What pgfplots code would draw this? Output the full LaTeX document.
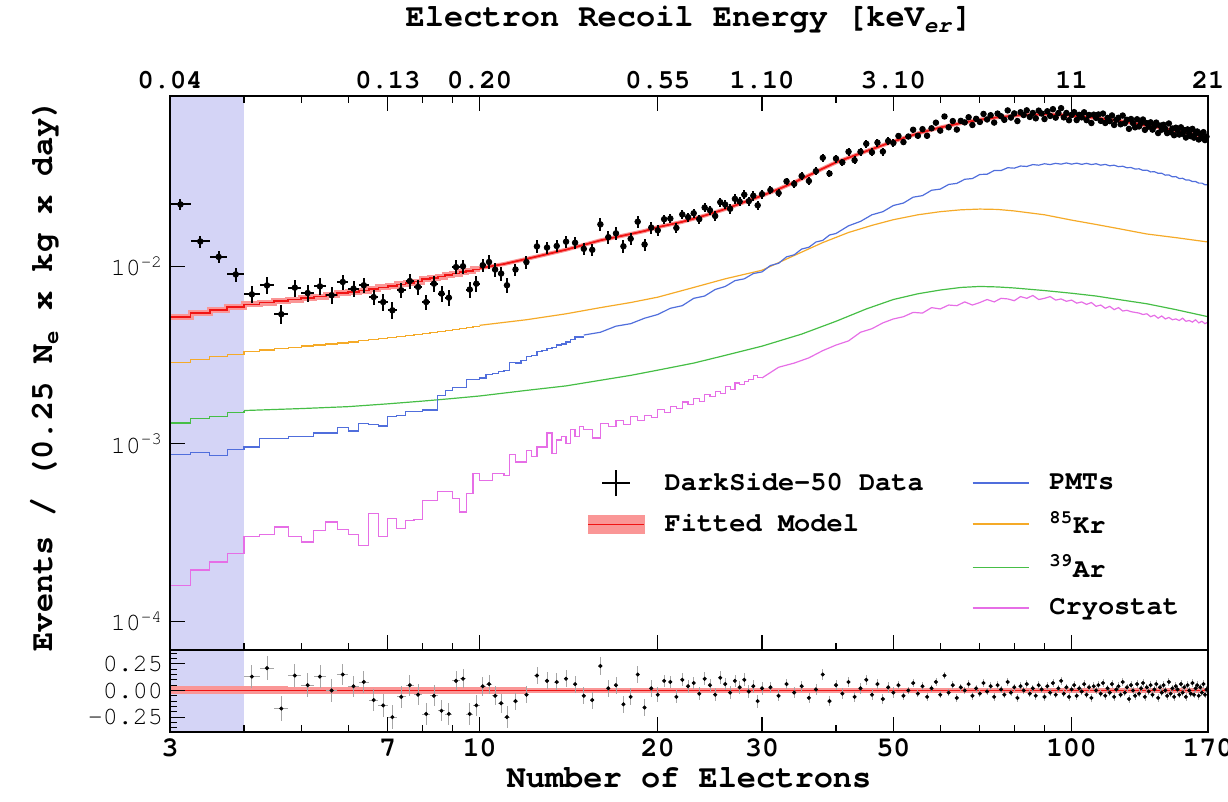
\documentclass[border=0pt]{standalone}
\usepackage{pgfplots}
\pgfplotsset{compat=1.18}
\usepackage{pgfplotstable}
\usepackage{fontspec}
\setmainfont{TeX Gyre Cursor}

\definecolor{bandblue}{RGB}{212,212,246}
\definecolor{fitred}{RGB}{240,20,20}
\definecolor{fitband}{RGB}{250,150,150}
\definecolor{pmtblue}{RGB}{80,110,220}
\definecolor{krorange}{RGB}{245,170,40}
\definecolor{argreen}{RGB}{70,190,70}
\definecolor{cryomag}{RGB}{230,110,230}

% data: N, events, relative error, residual
\pgfplotstableread{
N y rel r
3.125 0.0223 0.07 nan
3.375 0.0138 0.08 nan
3.625 0.0113 0.08 nan
3.875 0.0090 0.09 nan
4.125 0.00695 0.11 0.13
4.375 0.0078 0.11 0.21
4.625 0.00537 0.12 -0.17
4.875 0.00758 0.11 0.14
5.125 0.00707 0.11 0.05
5.375 0.00771 0.11 0.13
5.625 0.00687 0.11 0.00
5.875 0.00816 0.10 0.15
6.125 0.00748 0.10 0.04
6.375 0.00782 0.10 0.08
6.625 0.00671 0.10 -0.09
6.875 0.00629 0.11 -0.14
7.125 0.00565 0.11 -0.25
7.375 0.00733 0.10 -0.06
7.625 0.00826 0.10 0.05
7.875 0.00765 0.10 -0.04
8.125 0.00629 0.10 -0.22
8.375 0.00798 0.10 -0.05
8.625 0.00702 0.10 -0.19
8.875 0.00666 0.10 -0.22
9.125 0.0099 0.09 0.09
9.375 0.0100 0.09 0.11
9.625 0.0074 0.10 -0.22
9.875 0.00798 0.10 -0.14
10.125 0.01014 0.09 0.04
10.375 0.01057 0.09 0.06
10.625 0.00958 0.09 -0.05
10.875 0.0091 0.09 -0.12
11.125 0.00782 0.10 -0.25
11.5 0.00959 0.08 -0.10
12.0 0.01056 0.08 -0.04
12.5 0.01294 0.08 0.14
13.0 0.01275 0.08 0.09
13.5 0.01301 0.08 0.08
14.0 0.01376 0.08 0.11
14.5 0.01357 0.08 0.06
15.0 0.01254 0.08 -0.05
15.5 0.01238 0.08 -0.09
16.0 0.01722 0.08 0.23
16.5 0.01459 0.08 0.02
17.0 0.01533 0.08 0.05
17.5 0.01296 0.08 -0.13
18.0 0.01429 0.08 -0.06
18.5 0.01783 0.08 0.15
19.0 0.01327 0.08 -0.16
19.5 0.01652 0.08 0.02
20.0 0.01594 0.07 -0.04
20.5 0.01842 0.06 0.09
21.0 0.01858 0.06 0.08
21.5 0.01645 0.06 -0.06
22.0 0.01958 0.06 0.10
22.5 0.01893 0.06 0.04
23.0 0.01990 0.06 0.07
23.5 0.01843 0.06 -0.03
24.0 0.02142 0.06 0.11
24.5 0.02069 0.06 0.05
25.0 0.01920 0.06 -0.04
25.5 0.02296 0.06 0.12
26.0 0.02226 0.06 0.06
26.5 0.02107 0.06 -0.02
27.0 0.02398 0.06 0.09
27.5 0.02318 0.06 0.03
28.0 0.02530 0.06 0.10
28.5 0.02327 0.06 -0.01
29.0 0.02496 0.06 0.04
29.5 0.02205 0.06 -0.10
30.0 0.02550 0.06 0.02
31 0.02688 0.05 0.03
32 0.02584 0.05 -0.05
33 0.03010 0.05 0.06
34 0.02911 0.05 -0.02
35 0.03224 0.05 0.04
36 0.03023 0.05 -0.07
37 0.03434 0.05 0.01
38 0.04083 0.05 0.15
39 0.03330 0.05 -0.10
40 0.04043 0.05 0.05
41 0.03851 0.05 -0.03
42 0.04417 0.05 0.08
43 0.03957 0.05 -0.06
44 0.04417 0.05 0.02
45 0.04895 0.05 0.10
46 0.04387 0.05 -0.04
47 0.04971 0.05 0.06
48 0.04425 0.05 -0.08
49 0.05078 0.05 0.03
50 0.04949 0.05 -0.02
51 0.05418 0.035 0.05
52 0.05007 0.035 -0.05
53 0.05380 0.035 0.00
54 0.05874 0.035 0.07
55 0.05432 0.035 -0.03
56 0.05918 0.035 0.04
57 0.05433 0.035 -0.06
58 0.05987 0.035 0.02
59 0.06437 0.035 0.08
60 0.05808 0.035 -0.04
61 0.06977 0.035 0.14
62 0.06066 0.035 -0.02
63 0.06573 0.035 0.05
64 0.05887 0.035 -0.07
65 0.06592 0.035 0.03
66 0.06460 0.035 0.00
67 0.06911 0.035 0.06
68 0.06251 0.035 -0.05
69 0.06773 0.035 0.02
70 0.06499 0.035 -0.03
71 0.07212 0.035 0.07
72 0.06712 0.035 -0.01
73 0.07093 0.035 0.04
74 0.06448 0.035 -0.06
75 0.07245 0.035 0.05
76 0.06999 0.035 0.01
77 0.06682 0.035 -0.04
78 0.07549 0.035 0.08
79 0.06880 0.035 -0.02
80 0.07262 0.035 0.03
81 0.06575 0.035 -0.07
82 0.07374 0.035 0.04
83 0.07110 0.035 0.00
84 0.07558 0.035 0.06
85 0.06936 0.035 -0.03
86 0.07303 0.035 0.02
87 0.06812 0.035 -0.05
88 0.07529 0.035 0.05
89 0.07252 0.035 0.01
90 0.06749 0.035 -0.06
91 0.07467 0.035 0.04
92 0.07027 0.035 -0.02
93 0.07672 0.035 0.07
94 0.06874 0.035 -0.04
95 0.07293 0.035 0.02
96 0.07772 0.035 0.09
97 0.06897 0.035 -0.03
98 0.07303 0.035 0.03
99 0.06646 0.035 -0.06
100 0.07121 0.035 0.01
101 0.07382 0.035 0.05
102 0.06660 0.035 -0.05
103 0.07130 0.035 0.02
104 0.06900 0.035 -0.01
105 0.07367 0.035 0.06
106 0.06653 0.035 -0.04
107 0.07117 0.035 0.03
108 0.06408 0.035 -0.07
109 0.07145 0.035 0.04
110 0.06850 0.035 0.00
111 0.07161 0.035 0.05
112 0.06596 0.035 -0.03
113 0.07244 0.035 0.07
114 0.06413 0.035 -0.05
115 0.06854 0.035 0.02
116 0.06566 0.035 -0.02
117 0.07070 0.035 0.06
118 0.06251 0.035 -0.06
119 0.06686 0.035 0.01
120 0.06864 0.035 0.04
121 0.06307 0.035 -0.04
122 0.07063 0.035 0.08
123 0.06390 0.035 -0.02
124 0.06685 0.035 0.03
125 0.05943 0.035 -0.08
126 0.06752 0.035 0.05
127 0.06400 0.035 0.00
128 0.06061 0.035 -0.05
129 0.06731 0.035 0.06
130 0.06130 0.035 -0.03
131 0.06416 0.035 0.02
132 0.06709 0.035 0.07
133 0.05866 0.035 -0.06
134 0.06396 0.035 0.03
135 0.06118 0.035 -0.01
136 0.06468 0.035 0.05
137 0.05885 0.035 -0.04
138 0.06161 0.035 0.01
139 0.06445 0.035 0.06
140 0.05627 0.035 -0.07
141 0.06201 0.035 0.03
142 0.05880 0.035 -0.02
143 0.06269 0.035 0.05
144 0.05950 0.035 0.00
145 0.05624 0.035 -0.05
146 0.06372 0.035 0.08
147 0.05694 0.035 -0.03
148 0.05967 0.035 0.02
149 0.05471 0.035 -0.06
150 0.06032 0.035 0.04
151 0.05828 0.035 0.01
152 0.05520 0.035 -0.04
153 0.06063 0.035 0.06
154 0.05586 0.035 -0.02
155 0.05840 0.035 0.03
156 0.05311 0.035 -0.06
157 0.05901 0.035 0.05
158 0.05600 0.035 0.00
159 0.05403 0.035 -0.03
160 0.05939 0.035 0.07
161 0.05299 0.035 -0.04
162 0.05610 0.035 0.02
163 0.05744 0.035 0.05
164 0.05178 0.035 -0.05
165 0.05583 0.035 0.03
166 0.05292 0.035 -0.02
167 0.05692 0.035 0.06
168 0.05136 0.035 -0.04
169 0.05373 0.035 0.01
}\datatable

% fitted model, stepped part and smooth part
\pgfplotstableread{
N y
3 5.2e-3
3.25 5.45e-3
3.5 5.65e-3
3.75 5.9e-3
4 6.1e-3
4.25 6.25e-3
4.5 6.35e-3
4.75 6.5e-3
5 6.6e-3
5.25 6.75e-3
5.5 6.9e-3
5.75 7.05e-3
6 7.2e-3
6.25 7.3e-3
6.5 7.45e-3
6.75 7.6e-3
7 7.75e-3
7.25 7.9e-3
7.5 8.05e-3
7.75 8.2e-3
8 8.45e-3
8.25 8.6e-3
8.5 8.75e-3
8.75 8.9e-3
9 9.1e-3
9.25 9.3e-3
9.5 9.45e-3
9.75 9.6e-3
10 9.6e-3
}\redlow
\pgfplotstableread{
N y
10 9.75e-3
11 0.0103
12 0.0110
13 0.0117
14 0.0124
15 0.0132
16 0.0140
17 0.0146
18 0.0152
19 0.0158
20 0.0166
22 0.0178
24 0.0193
26 0.0210
28 0.0230
30 0.0250
32 0.0272
34 0.0297
36 0.0325
38 0.0355
40 0.0385
45 0.0445
50 0.0505
55 0.0560
60 0.0605
65 0.0640
70 0.0670
75 0.0690
80 0.0705
85 0.0715
90 0.0718
95 0.0715
100 0.0705
110 0.0685
120 0.0660
130 0.0632
140 0.0605
150 0.0580
160 0.0555
170 0.0530
}\redhigh

\begin{document}
\begin{tikzpicture}
\begin{axis}[
  name=main,
  scale only axis, width=519pt, height=277pt,
  xmode=log, ymode=log,
  xmin=3, xmax=170, ymin=6.9e-5, ymax=0.091,
  axis on top,
  axis line style={line width=0.7pt},
  xtick={3,7,10,20,30,50,100,170},
  xticklabels={0.04,0.13,0.20,0.55,1.10,3.10,11,21},
  minor xtick={4,5,6,8,9,40,60,70,80,90},
  xticklabel pos=upper, xtick pos=both,
  ytick={1e-4,1e-3,1e-2},
  yticklabels={10\textsuperscript{-4},10\textsuperscript{-3},10\textsuperscript{-2}},
  yminorticks=false, ytick pos=left,
  major tick length=7.5pt, minor tick length=3.5pt,
  tick style={black, line width=0.6pt},
  x tick label style={font=\fontsize{13.5}{16}\selectfont\bfseries},
  y tick label style={font=\fontsize{12.5}{15}\selectfont},
  title={Electron Recoil Energy [keV\textsubscript{\textit{er}}]},
  title style={font=\fontsize{16}{19}\selectfont\bfseries, at={(axis description cs:0.5,1)}, anchor=center, yshift=32pt},
  ylabel={Events / (0.25 N\textsubscript{e} x kg x day)},
  ylabel style={font=\fontsize{16}{19}\selectfont\bfseries, at={(axis description cs:-0.1204,0.496)}, anchor=center},
  legend columns=2,
  legend cell align=left,
  legend image code/.code={\draw[#1] (0pt,0pt) -- (28pt,0pt);},
  legend style={draw=none, fill=none, at={(0.396,0.3345)}, anchor=north west,
    font=\fontsize{13.5}{16}\selectfont\bfseries, row sep=5pt,
    /tikz/every odd column/.append style={column sep=8pt},
    /tikz/every even column/.append style={column sep=22pt}},
]
\fill[bandblue] (axis cs:3,1e-5) rectangle (axis cs:4,1);

% Cryostat
\addplot[cryomag, line width=0.6pt, const plot, forget plot] coordinates {
(3,1.6e-4)(3.25,1.95e-4)(3.5,2.16e-4)(3.75,2.4e-4)(4,3.0e-4)(4.25,3.1e-4)(4.5,3.4e-4)(4.75,3.0e-4)
(5,2.8e-4)(5.25,3.25e-4)(5.5,3.63e-4)(5.75,3.3e-4)(6,3.1e-4)(6.25,2.68e-4)(6.5,4.05e-4)(6.75,3.0e-4)
(7,3.8e-4)(7.25,3.35e-4)(7.5,3.7e-4)(7.75,3.75e-4)(8,4.8e-4)(8.25,4.8e-4)(8.5,5.4e-4)(8.75,5.4e-4)
(9,4.9e-4)(9.25,4.13e-4)(9.5,5.25e-4)(9.75,6.8e-4)(10,6.2e-4)(10.25,6.2e-4)(10.5,6.8e-4)(10.75,6.8e-4)
(11,6.6e-4)(11.25,8.7e-4)(11.5,7.9e-4)(11.75,7.9e-4)(12,9.2e-4)(12.25,8.5e-4)(12.5,9.6e-4)(12.75,9.6e-4)
(13,1.15e-3)(13.25,8.8e-4)(13.5,1.05e-3)(13.75,1.1e-3)(14,1.0e-3)(14.25,1.2e-3)(14.5,1.1e-3)(14.75,1.25e-3)
(15,1.2e-3)(15.5,1.08e-3)(16,1.3e-3)(16.5,1.25e-3)(17,1.35e-3)(17.5,1.28e-3)(18,1.42e-3)(18.5,1.36e-3)
(19,1.45e-3)(19.5,1.4e-3)(20,1.56e-3)(20.5,1.5e-3)(21,1.62e-3)(21.5,1.58e-3)(22,1.72e-3)(22.5,1.66e-3)
(23,1.8e-3)(23.5,1.74e-3)(24,1.9e-3)(24.5,1.85e-3)(25,1.98e-3)(25.5,1.92e-3)(26,2.1e-3)(26.5,2.02e-3)
(27,2.2e-3)(27.5,2.15e-3)(28,2.25e-3)(28.5,2.3e-3)(29,2.42e-3)(29.5,2.36e-3)(30,2.36e-3)};
\addplot[cryomag, line width=0.6pt, forget plot] coordinates {
(30,2.35e-3)(32,2.7e-3)(34,2.85e-3)(36,3.05e-3)(38,3.35e-3)(40,3.6e-3)(42,3.8e-3)(44,4.25e-3)
(46,4.45e-3)(48,4.8e-3)(50,5.05e-3)(52,5.2e-3)(54,5.5e-3)(56,5.45e-3)(58,5.85e-3)(60,5.75e-3)
(62,6.05e-3)(64,6.0e-3)(66,6.3e-3)(68,6.05e-3)(70,6.25e-3)(72,6.5e-3)(74,6.3e-3)(76,6.6e-3)
(78,6.55e-3)(80,6.4e-3)(82,6.75e-3)(84,6.6e-3)(86,6.85e-3)(88,6.5e-3)(90,6.6e-3)(92,6.75e-3)
(94,6.45e-3)(96,6.55e-3)(98,6.35e-3)(100,6.45e-3)(102,6.2e-3)(104,6.3e-3)(106,6.1e-3)(108,6.25e-3)
(110,5.95e-3)(112,6.05e-3)(114,5.8e-3)(116,5.95e-3)(118,5.7e-3)(120,5.85e-3)(122,5.6e-3)(124,5.65e-3)
(126,5.55e-3)(128,5.5e-3)(130,5.45e-3)(132,5.35e-3)(134,5.4e-3)(136,5.2e-3)(138,5.3e-3)(140,5.1e-3)
(142,5.25e-3)(144,5.05e-3)(146,5.15e-3)(148,5.0e-3)(150,5.05e-3)(152,4.95e-3)(154,5.1e-3)(156,4.9e-3)
(158,4.95e-3)(160,4.85e-3)(162,5.0e-3)(164,4.8e-3)(166,4.9e-3)(168,4.75e-3)(170,4.85e-3)};

% 39Ar
\addplot[argreen, line width=0.6pt, const plot, forget plot] coordinates {
(3,1.31e-3)(3.25,1.39e-3)(3.5,1.42e-3)(3.75,1.5e-3)(4,1.54e-3)};
\addplot[argreen, line width=0.6pt, forget plot] coordinates {
(4,1.54e-3)(5,1.58e-3)(6,1.62e-3)(7,1.68e-3)(8,1.74e-3)(9,1.8e-3)(10,1.86e-3)(12,2.0e-3)(14,2.12e-3)
(16,2.28e-3)(18,2.43e-3)(20,2.6e-3)(23,2.85e-3)(26,3.15e-3)(30,3.55e-3)(35,4.15e-3)(40,4.9e-3)
(45,5.75e-3)(50,6.5e-3)(55,7.0e-3)(60,7.35e-3)(65,7.6e-3)(70,7.7e-3)(75,7.65e-3)(80,7.55e-3)
(90,7.3e-3)(100,7.05e-3)(110,6.8e-3)(120,6.5e-3)(134,6.15e-3)(150,5.7e-3)(170,5.2e-3)};

% 85Kr
\addplot[krorange, line width=0.6pt, const plot, forget plot] coordinates {
(3,2.88e-3)(3.25,3.0e-3)(3.5,3.1e-3)(3.75,3.2e-3)(4,3.32e-3)(4.25,3.38e-3)(4.5,3.44e-3)(4.75,3.5e-3)
(5,3.56e-3)(5.25,3.6e-3)(5.5,3.65e-3)(5.75,3.7e-3)(6,3.75e-3)(6.25,3.8e-3)(6.5,3.85e-3)(6.75,3.9e-3)
(7,3.97e-3)(7.25,4.02e-3)(7.5,4.08e-3)(7.75,4.13e-3)(8,4.2e-3)(8.25,4.25e-3)(8.5,4.3e-3)(8.75,4.36e-3)
(9,4.42e-3)(9.25,4.48e-3)(9.5,4.54e-3)(9.75,4.6e-3)(10,4.6e-3)};
\addplot[krorange, line width=0.6pt, forget plot] coordinates {
(10,4.65e-3)(12,5.0e-3)(14,5.4e-3)(16,5.85e-3)(18,6.25e-3)(20,6.7e-3)(23,7.6e-3)(26,8.5e-3)(30,9.5e-3)
(34,0.0115)(38,0.0136)(42,0.0155)(46,0.0170)(50,0.0183)(55,0.0195)(60,0.0203)(65,0.0208)(70,0.0210)
(75,0.0209)(80,0.0205)(90,0.0195)(100,0.0182)(110,0.0172)(120,0.0163)(134,0.0152)(150,0.0145)(170,0.0137)};

% PMTs
\addplot[pmtblue, line width=0.6pt, const plot, forget plot] coordinates {
(3,8.7e-4)(3.25,8.9e-4)(3.5,8.6e-4)(3.75,9.3e-4)(4,9.6e-4)(4.25,1.07e-3)(4.5,1.07e-3)(4.75,1.1e-3)
(5,1.1e-3)(5.25,1.15e-3)(5.5,1.15e-3)(5.75,1.24e-3)(6,1.18e-3)(6.25,1.3e-3)(6.5,1.28e-3)(6.75,1.26e-3)
(7,1.42e-3)(7.25,1.45e-3)(7.5,1.52e-3)(7.75,1.52e-3)(8,1.55e-3)(8.25,1.55e-3)(8.5,1.88e-3)(8.75,2.0e-3)
(9,2.08e-3)(9.25,2.08e-3)(9.5,2.3e-3)(9.75,2.3e-3)(10,2.35e-3)(10.25,2.45e-3)(10.5,2.5e-3)(10.75,2.55e-3)
(11,2.6e-3)(11.25,2.88e-3)(11.5,2.85e-3)(11.75,2.95e-3)(12,3.1e-3)(12.25,3.15e-3)(12.5,3.3e-3)(12.75,3.36e-3)
(13,3.45e-3)(13.25,3.5e-3)(13.5,3.6e-3)(13.75,3.65e-3)(14,3.75e-3)(14.25,3.85e-3)(14.5,4.0e-3)(15,4.0e-3)};
\addplot[pmtblue, line width=0.6pt, forget plot] coordinates {
(15,4.1e-3)(16,4.25e-3)(17,4.6e-3)(18,4.75e-3)(19,5.1e-3)(20,5.35e-3)(21,5.8e-3)(22,6.0e-3)
(23,6.6e-3)(24,6.8e-3)(25,7.4e-3)(26,7.7e-3)(27,8.3e-3)(28,8.5e-3)(29,9.1e-3)(30,9.3e-3)
(31,10.1e-3)(32,10.4e-3)(33,11.3e-3)(34,11.6e-3)(35,12.5e-3)(36,12.8e-3)(37,13.7e-3)(38,14.0e-3)
(39,15.0e-3)(40,15.3e-3)(42,16.9e-3)(44,17.9e-3)(46,19.5e-3)(48,20.3e-3)(50,22.0e-3)(52,22.7e-3)
(54,24.5e-3)(56,25.0e-3)(58,26.8e-3)(60,27.2e-3)(62,28.9e-3)(64,29.3e-3)(66,30.9e-3)(68,31.2e-3)
(70,32.9e-3)(72,33.0e-3)(74,34.6e-3)(76,34.6e-3)(78,35.9e-3)(80,35.7e-3)(82,36.7e-3)(84,36.5e-3)
(86,37.4e-3)(88,37.1e-3)(90,37.8e-3)(92,37.4e-3)(94,38.0e-3)(96,37.6e-3)(98,38.2e-3)(100,37.6e-3)
(102,38.1e-3)(104,37.5e-3)(106,38.0e-3)(108,37.4e-3)(110,37.8e-3)(112,37.1e-3)(114,37.5e-3)(116,36.8e-3)
(118,37.1e-3)(120,36.4e-3)(122,36.6e-3)(124,35.9e-3)(126,36.0e-3)(128,35.3e-3)(130,35.4e-3)(132,34.7e-3)
(134,34.8e-3)(136,34.0e-3)(138,34.1e-3)(140,33.4e-3)(142,33.4e-3)(144,32.6e-3)(146,32.7e-3)(148,31.9e-3)
(150,32.0e-3)(152,31.2e-3)(154,31.3e-3)(156,30.6e-3)(158,30.6e-3)(160,30.0e-3)(162,30.0e-3)(164,29.4e-3)
(166,29.4e-3)(168,28.8e-3)(170,28.8e-3)};

% fitted model band and line
\addplot[fitband, line width=3pt, const plot, forget plot] table[x=N,y=y] {\redlow};
\addplot[fitband, line width=2pt, forget plot] table[x=N,y=y] {\redhigh};
\addplot[fitred, line width=0.9pt, const plot, forget plot] table[x=N,y=y] {\redlow};
\addplot[fitred, line width=0.9pt, forget plot] table[x=N,y=y] {\redhigh};

% data
\addplot[only marks, mark=*, mark size=1.4pt, black, forget plot,
  error bars/.cd, y dir=both, y explicit relative, x dir=both, x fixed=0.125,
  error mark=none, error bar style={line width=1pt, black}]
  table[x=N, y=y, y error=rel] {\datatable};

% legend
\addlegendimage{legend image code/.code={\path (0pt,0pt) (28pt,0pt); \draw[black, line width=0.8pt] (14pt,-6.5pt) -- (14pt,6.5pt) (7pt,0pt) -- (21pt,0pt);}}
\addlegendentry{DarkSide-50 Data}
\addlegendimage{pmtblue, line width=0.8pt}
\addlegendentry{PMTs}
\addlegendimage{legend image code/.code={\fill[fitband] (0pt,-4.5pt) rectangle (28pt,4.5pt); \draw[fitred, line width=0.6pt] (0pt,0pt) -- (28pt,0pt);}}
\addlegendentry{Fitted Model}
\addlegendimage{krorange, line width=0.8pt}
\addlegendentry{\textsuperscript{85}Kr}
\addlegendimage{empty legend}
\addlegendentry{}
\addlegendimage{argreen, line width=0.8pt}
\addlegendentry{\textsuperscript{39}Ar}
\addlegendimage{empty legend}
\addlegendentry{}
\addlegendimage{cryomag, line width=0.8pt}
\addlegendentry{Cryostat}
\end{axis}

\begin{axis}[
  at={(main.south west)}, anchor=north west,
  scale only axis, width=519pt, height=41pt,
  xmode=log, xmin=3, xmax=170, ymin=-0.39, ymax=0.38,
  axis on top,
  axis line style={line width=0.7pt},
  xtick={3,7,10,20,30,50,100,170},
  xticklabels={3,7,10,20,30,50,100,170},
  minor xtick={4,5,6,8,9,40,60,70,80,90},
  xtick pos=bottom,
  ytick={-0.25,0,0.25},
  yticklabels={-0.25,0.00,0.25},
  minor ytick={-0.35,-0.3,-0.2,-0.15,-0.1,-0.05,0.05,0.1,0.15,0.2,0.3,0.35},
  ytick pos=left,
  major tick length=7.5pt, minor tick length=3.5pt,
  tick style={black, line width=0.6pt},
  x tick label style={font=\fontsize{14}{16}\selectfont\bfseries},
  y tick label style={font=\fontsize{12.5}{15}\selectfont},
  xlabel={Number of Electrons},
  xlabel style={font=\fontsize{16}{19}\selectfont\bfseries, at={(axis description cs:0.5,-0.56)}, anchor=center},
]
\fill[bandblue] (axis cs:3,-1) rectangle (axis cs:4,1);
\addplot[fitband, line width=4pt] coordinates {(3,0)(4.75,0)};
\addplot[fitband, line width=3.2pt] coordinates {(4.75,0)(12,0)};
\addplot[fitband, line width=2.1pt] coordinates {(12,0)(170,0)};
\addplot[fitred, line width=0.5pt] coordinates {(3,0)(170,0)};
\addplot[only marks, mark=*, mark size=0.8pt, black,
  error bars/.cd, y dir=both, y explicit, x dir=both, x fixed=0.125,
  error mark=none, error bar style={line width=0.4pt, black!35}]
  table[x=N, y=r, y error=rel] {\datatable};
\end{axis}

\pgfresetboundingbox
\path (main.north west) +(-85pt,48pt) rectangle +(529pt,-353pt);
\end{tikzpicture}
\end{document}
